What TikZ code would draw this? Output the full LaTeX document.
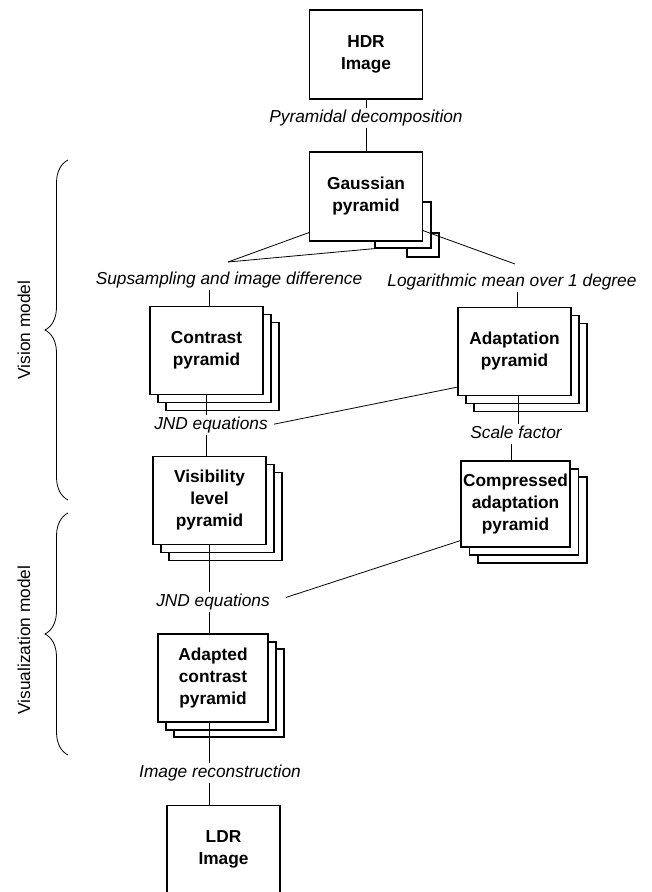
\documentclass[tikz,border=0pt]{standalone}
\usepackage{fontspec}
\setmainfont{Liberation Sans}
\usetikzlibrary{decorations.pathreplacing}

\begin{document}
\begin{tikzpicture}[x=1pt, y=-1pt,
  card/.style={draw, line width=1.2pt, fill=white, minimum width=113pt, minimum height=88pt,
    inner sep=1pt, align=center, font=\fontsize{17.3}{22}\selectfont\bfseries},
  sheet/.style={draw, line width=1.2pt, fill=white, minimum width=113pt, minimum height=88pt, inner sep=0pt},
  stage/.style={font=\fontsize{17.3}{20}\selectfont\itshape, text height=12.5pt, text depth=3.6pt, inner sep=2pt},
  model/.style={font=\fontsize{17.3}{20}\selectfont, rotate=90},
  wire/.style={line width=0.8pt},
  curly/.style={decorate, decoration={brace, amplitude=23pt}, line width=0.8pt}]

\useasboundingbox (0,0) rectangle (651,892);

% ---- INPUT ----
\node[card, minimum height=89pt] (hdr) at (366,54.5) {HDR\\Image};
\node[stage] (pd) at (366,118) {Pyramidal decomposition};

% Gaussian stack (back sheets partly hidden)
\node[sheet, minimum width=32pt, minimum height=24pt] (gauss3) at (423,245) {};
\node[sheet, minimum width=56pt, minimum height=46pt] (gauss2) at (403,225) {};
\node[card, minimum height=89pt] (gauss) at (366,196.5) {Gaussian\\pyramid};

\node[stage] (sup) at (229,280) {Supsampling and image difference};
\node[stage] (log) at (512,282) {Logarithmic mean over 1 degree};

% ---- VISION MODEL ----
\node[sheet] (contrast3) at (222.5,366.5) {};
\node[sheet] (contrast2) at (214.5,358.5) {};
\node[card] (contrast) at (206.5,350.5) {Contrast\\pyramid};

\node[sheet] (adapt3) at (530.5,367.5) {};
\node[sheet] (adapt2) at (522.5,359.5) {};
\node[card] (adapt) at (514.5,351.5) {Adaptation\\pyramid};

\node[stage] (jnd1) at (211,425) {JND equations};
\node[stage] (scale) at (516,434) {Scale factor};

\node[sheet] (vis3) at (225.5,516.5) {};
\node[sheet] (vis2) at (217.5,508.5) {};
\node[card] (vis) at (209.5,500.5) {Visibility\\level\\pyramid};

\node[sheet, minimum width=109pt, minimum height=86pt] (comp3) at (532.5,520) {};
\node[sheet, minimum width=109pt, minimum height=86pt] (comp2) at (524,512) {};
\node[card, minimum width=109pt, minimum height=86pt] (comp) at (515.5,504) {Compressed\\adaptation\\pyramid};

% ---- VISUALIZATION MODEL ----
\node[stage] (jnd2) at (213,602) {JND equations};

\node[sheet, minimum width=110pt] (adapted3) at (229,693) {};
\node[sheet, minimum width=110pt] (adapted2) at (221,686) {};
\node[card, minimum width=110pt] (adapted) at (213,678) {Adapted\\contrast\\pyramid};

\node[stage] (ir) at (220,773) {Image reconstruction};
\node[card] (ldr) at (223.5,849.5) {LDR\\Image};

% Connectors
\coordinate (sl) at (228,262);
\coordinate (sr) at (515,264);
\draw[wire] (hdr.south) -- (pd.north);
\draw[wire] (pd.south) -- (gauss.north);
\draw[wire] (sl) -- ([yshift=9pt]gauss.south west);
\draw[wire] (sl) -- (gauss2.south west);
\draw[wire] (sr) -- ([yshift=11pt]gauss.south east);
\draw[wire] ([xshift=2.5pt]sup.south -| contrast.north) -- ([xshift=2.5pt]contrast.north);
\draw[wire] ([xshift=2.5pt]log.south -| adapt.north) -- ([xshift=2.5pt]adapt.north);
\draw[wire] ([xshift=3.5pt]adapt.south) -- ([xshift=3.5pt]adapt.south |- scale.north);
\draw[wire] ([xshift=-4.5pt]scale.south -| comp.north) -- ([xshift=-4.5pt]comp.north);
\draw[wire] (contrast.south) -- (contrast.south |- jnd1.north);
\draw[wire] (jnd1.south -| contrast.south) -- (vis.north -| contrast.south);
\draw[wire, shorten <=4pt] (jnd1.east) -- ([yshift=9pt]adapt.south west);
\draw[wire] (vis.south) -- (vis.south |- jnd2.north);
\draw[wire, shorten <=15pt] (jnd2.east) -- ([yshift=7pt]comp.south west);
\draw[wire] (jnd2.south -| vis.south) -- (adapted.north -| vis.south);
\draw[wire] (adapted.south -| vis.south) -- (ir.north -| vis.south);
\draw[wire] (ir.south -| vis.south) -- (ldr.north -| vis.south);

% Model braces
\draw[curly] (68,500) -- (68,160);
\node[model] (vision) at (24,330) {Vision model};
\draw[curly] (68,755) -- (68,513);
\node[model] (visual) at (24,640) {Visualization model};

\end{tikzpicture}
\end{document}
